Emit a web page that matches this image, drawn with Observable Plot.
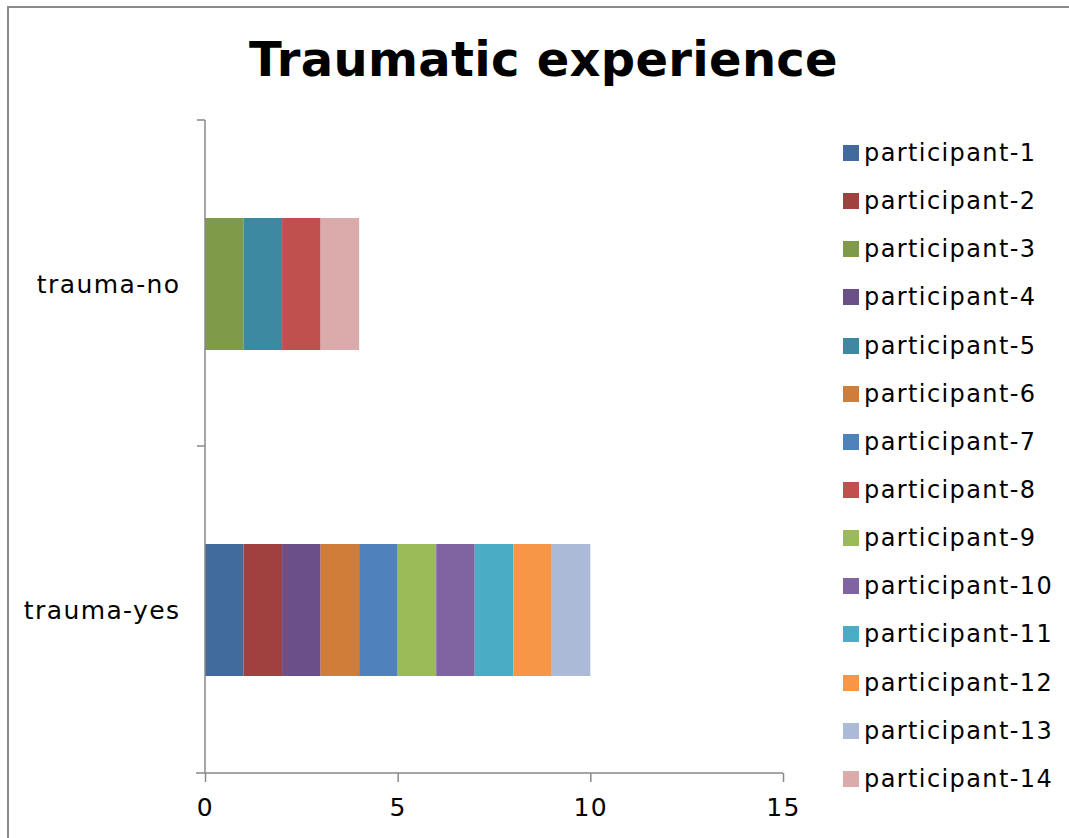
<!DOCTYPE html>
<html>
<head>
<meta charset="utf-8">
<script src="https://cdn.jsdelivr.net/npm/d3@7"></script>
<script src="https://cdn.jsdelivr.net/npm/@observablehq/plot@0.6"></script>
<style>
  html, body { margin: 0; padding: 0; background: #fff; }
  #chart { position: relative; width: 1069px; height: 838px; overflow: hidden; font-family: "DejaVu Sans", Verdana, sans-serif; }
  #frame { position: absolute; left: 7px; top: 6px; width: 1100px; height: 900px; border-left: 2px solid #8a8a8a; border-top: 2px solid #8a8a8a; }
  #title { position: absolute; left: 543.5px; top: 35px; transform: translateX(-50%); font-size: 48px; font-weight: bold; line-height: 1; white-space: nowrap; color: #000; letter-spacing: 0.3px; }
  #plot { position: absolute; left: 0; top: 0; }
  #legend { position: absolute; left: 843px; top: 129px; }
  .item { display: flex; align-items: center; height: 48.15px; font-size: 24px; letter-spacing: 1.4px; color: #000; white-space: nowrap; }
  .sw { width: 16px; height: 16px; margin-right: 5px; flex: none; }
</style>
</head>
<body>
<div id="chart">
  <div id="frame"></div>
  <div id="title">Traumatic experience</div>
  <div id="plot"></div>
  <div id="legend"></div>
</div>
<script>
const groups = ["trauma-no", "trauma-yes"];
const participants = ["participant-1","participant-2","participant-3","participant-4","participant-5","participant-6","participant-7","participant-8","participant-9","participant-10","participant-11","participant-12","participant-13","participant-14"];
const participantGroup = ["trauma-yes","trauma-yes","trauma-no","trauma-yes","trauma-no","trauma-yes","trauma-yes","trauma-no","trauma-yes","trauma-yes","trauma-yes","trauma-yes","trauma-yes","trauma-no"];
const counts = [1,1,1,1,1,1,1,1,1,1,1,1,1,1];
const colors = ["#416A9D","#A0413F","#7F9A48","#6A4F88","#3C8AA2","#CF7D38","#4F81BD","#C0504D","#9BBB59","#8064A2","#4BACC6","#F79646","#AABAD7","#DBAAAA"];
const xTicks = [0, 5, 10, 15];
const xDomain = [0, 15];

const data = participants.map((p, i) => ({participant: p, group: participantGroup[i], value: counts[i]}));

const axisColor = "#898989";
const plot = Plot.plot({
  width: 1069,
  height: 838,
  marginLeft: 205,
  marginRight: 286,
  marginTop: 120,
  marginBottom: 65,
  style: {fontFamily: "DejaVu Sans, Verdana, sans-serif", fontSize: "24px", letterSpacing: "1.4px", color: "#000", background: "transparent", overflow: "visible"},
  x: {domain: xDomain, ticks: xTicks, label: null},
  y: {domain: groups, paddingInner: 0.596, paddingOuter: 0.298, label: null},
  color: {domain: participants, range: colors},
  marks: [
    Plot.barX(data, {y: "group", x: "value", fill: "participant"}),
    Plot.axisX({ticks: xTicks, tickSize: 9, tickPadding: 16, stroke: axisColor, strokeWidth: 1.5, fill: "#000", fontSize: 25, label: null}),
    Plot.axisY({tickSize: 0, tickPadding: 25, fill: "#000", fontSize: 25, label: null})
  ]
});
document.getElementById("plot").appendChild(plot);

// axis lines and category boundary ticks, positioned through Plot's scales
const xs = plot.scale("x"), ys = plot.scale("y");
const svg = d3.select(plot);
const x0 = xs.apply(xDomain[0]), x1 = xs.apply(xDomain[1]);
const [yTop, yBottom] = ys.range;
const g = svg.append("g").attr("stroke", axisColor).attr("stroke-width", 1.5).attr("fill", "none");
g.append("line").attr("x1", x0).attr("x2", x0).attr("y1", yTop).attr("y2", yBottom);
g.append("line").attr("x1", x0 - 9).attr("x2", x1).attr("y1", yBottom).attr("y2", yBottom);
for (let i = 0; i < groups.length; i++) {
  const y = yTop + i * ys.step;
  g.append("line").attr("x1", x0 - 8).attr("x2", x0).attr("y1", y).attr("y2", y);
}

// legend built from the color scale
const cs = plot.scale("color");
const legend = d3.select("#legend");
participants.forEach(p => {
  const item = legend.append("div").attr("class", "item");
  item.append("div").attr("class", "sw").style("background", cs.apply(p));
  item.append("span").text(p);
});
</script>
</body>
</html>
